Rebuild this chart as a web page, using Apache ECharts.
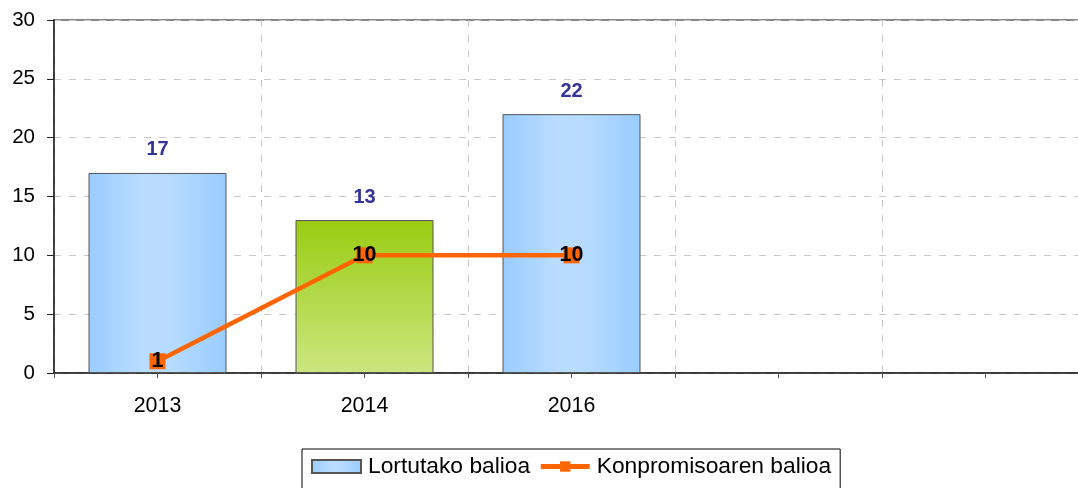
<!DOCTYPE html>
<html>
<head>
<meta charset="utf-8">
<script src="https://cdn.jsdelivr.net/npm/echarts@6/dist/echarts.min.js"></script>
<style>html,body{margin:0;padding:0;background:#fff;}#c{width:1078px;height:488px;}</style>
</head>
<body>
<div id="c"></div>
<script>
const categories = ['2013', '2014', '2016', '', ''];
const achievedValues = [17, 13, 22, null, null];
const commitmentValues = [1, 10, 10, null, null];
const yTicks = [0, 5, 10, 15, 20, 25, 30];
const seriesNames = ['Lortutako balioa', 'Konpromisoaren balioa'];

const FONT = 'Liberation Sans, Arial, sans-serif';
const blueGrad = new echarts.graphic.LinearGradient(0, 0, 1, 0, [
  {offset: 0, color: '#99CCFF'},
  {offset: 0.4, color: '#BADDFF'},
  {offset: 0.6, color: '#B6DBFF'},
  {offset: 1, color: '#99CCFF'}
]);
const greenGrad = new echarts.graphic.LinearGradient(0, 0, 0, 1, [
  {offset: 0, color: '#99CC11'},
  {offset: 1, color: '#CCE680'}
]);

const barData = achievedValues.map((v, i) => {
  if (v === null) return null;
  if (categories[i] === '2014') return {value: v, itemStyle: {color: greenGrad}};
  return v;
});

const chart = echarts.init(document.getElementById('c'), null, {renderer: 'canvas'});
chart.setOption({
  animation: false,
  textStyle: {fontFamily: FONT},
  grid: {left: 54, top: 20, width: 1035, height: 353, outerBoundsMode: 'none', containLabel: false,
         show: true, borderColor: '#888', borderWidth: 2, backgroundColor: 'transparent'},
  legend: {
    left: 302, top: 449,
    data: [{name: seriesNames[0], icon: 'rect'}, {name: seriesNames[1], lineStyle: {width: 5, color: '#FF6600'}}],
    itemWidth: 49, itemHeight: 13, itemGap: 8,
    borderColor: '#000', borderWidth: 1,
    padding: [6, 9, 20, 9],
    textStyle: {fontSize: 22.8, color: '#000', fontFamily: FONT, padding: [0, 0, 0, 2]}
  },
  xAxis: [{
    type: 'category', data: categories, boundaryGap: true,
    axisLine: {lineStyle: {color: '#222', width: 1.5}},
    axisTick: {length: 7, lineStyle: {color: '#222'}},
    axisLabel: {fontSize: 21.4, color: '#000', margin: 23, fontFamily: FONT},
    splitLine: {show: true, lineStyle: {color: '#c8c8c8', type: [7, 8]}}
  }, {
    type: 'value', min: 0, max: 10, interval: 1, position: 'bottom',
    axisLine: {show: false}, axisLabel: {show: false}, splitLine: {show: false},
    axisTick: {show: true, length: 5, lineStyle: {color: '#555'}}
  }],
  yAxis: {
    type: 'value', min: yTicks[0], max: yTicks[yTicks.length - 1], interval: 5,
    axisLine: {show: true, lineStyle: {color: '#222', width: 1.5}},
    axisTick: {show: true, length: 7, lineStyle: {color: '#222'}},
    axisLabel: {fontSize: 20.5, color: '#000', margin: 19, fontFamily: FONT},
    splitLine: {show: true, lineStyle: {color: '#c8c8c8', type: [7, 8]}}
  },
  series: [{
    name: seriesNames[0], type: 'bar', data: barData, barWidth: 138,
    itemStyle: {color: blueGrad, borderColor: '#555', borderWidth: 1},
    label: {show: true, position: 'top', distance: 13, color: '#333399', fontWeight: 'bold', fontSize: 20, fontFamily: FONT},
    z: 2
  }, {
    name: seriesNames[1], type: 'line', data: commitmentValues,
    symbol: 'rect', symbolSize: 16,
    lineStyle: {color: '#FF6600', width: 4.5},
    itemStyle: {color: '#FF6600'},
    label: {show: true, position: 'inside', color: '#000', fontWeight: 'bold', fontSize: 21.5, fontFamily: FONT},
    z: 3
  }]
});
</script>
</body>
</html>
